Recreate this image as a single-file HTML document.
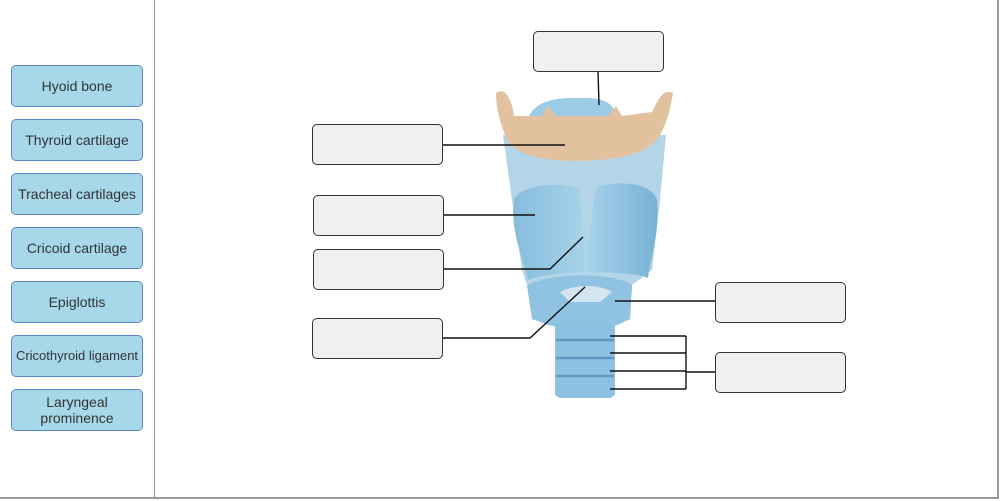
<!DOCTYPE html>
<html><head><style>
body{margin:0;width:1000px;height:501px;background:#fff;font-family:"Liberation Sans",sans-serif;position:relative;overflow:hidden}
.frame{position:absolute;left:0;top:0;width:997px;height:497px;border-right:2px solid #999;border-bottom:2px solid #999}
.div{position:absolute;left:154px;top:0;width:1px;height:498px;background:#999}
.lb{position:absolute;left:11px;width:130px;height:40px;background:#a6d8ea;border:1px solid #5b86c5;border-radius:5px;color:#333;font-size:14px;display:flex;align-items:center;justify-content:center;text-align:center;line-height:16px}
.eb{position:absolute;width:129px;height:39px;background:#f0f0f0;border:1px solid #333;border-radius:5px}
svg{position:absolute;left:0;top:0}
</style></head><body>
<div class="frame"></div><div class="div"></div>
<div class="lb" style="top:65px">Hyoid bone</div>
<div class="lb" style="top:119px">Thyroid cartilage</div>
<div class="lb" style="top:173px">Tracheal cartilages</div>
<div class="lb" style="top:227px">Cricoid cartilage</div>
<div class="lb" style="top:281px">Epiglottis</div>
<div class="lb" style="top:335px;font-size:13px">Cricothyroid ligament</div>
<div class="lb" style="top:389px">Laryngeal<br>prominence</div>
<svg width="1000" height="501">
<defs>
<linearGradient id="b" x1="0" x2="1"><stop offset="0" stop-color="#86bddc"/><stop offset=".5" stop-color="#a8d3ea"/><stop offset="1" stop-color="#78b2d6"/></linearGradient>
</defs>
<!-- epiglottis -->
<path d="M528,120 C532,100 560,97 580,98 C605,97 618,105 615,120 Z" fill="#9ccbe6"/>
<!-- membrane/body silhouette -->
<path d="M503,135 L666,135 L660,200 L652,270 L632,285 L630,320 L615,322 L615,395 L555,395 L555,322 L532,320 L527,285 L522,270 L512,200 Z" fill="#b4d5e8"/>
<!-- thyroid cartilage -->
<path d="M514,200 C520,184 560,182 578,188 C583,205 580,232 587,242 C594,232 590,200 598,186 C625,180 652,184 657,200 C660,235 650,258 648,278 C630,270 550,270 528,280 C522,255 510,230 514,200 Z" fill="url(#b)"/>
<!-- cricoid -->
<path d="M527,286 C545,272 620,272 632,286 L630,318 C610,334 560,334 532,318 Z" fill="#8fc3e1"/>
<path d="M560,292 C575,284 600,284 612,292 L600,302 L570,302 Z" fill="#d3e5ef"/>
<!-- trachea -->
<rect x="555" y="322" width="60" height="76" rx="6" fill="#8cc1e1"/>
<g stroke="#5f98c0" stroke-width="2.5"><line x1="556" y1="340" x2="614" y2="340"/><line x1="556" y1="358" x2="614" y2="358"/><line x1="556" y1="376" x2="614" y2="376"/></g>
<!-- hyoid -->
<path d="M496,93 C505,86 512,100 514,116 L542,116 L548,106 L556,116 L608,116 L616,106 L622,116 L652,112 C658,100 663,88 673,93 C670,112 665,130 655,142 C640,156 610,161 575,161 C545,161 520,156 508,142 C501,126 496,110 496,93 Z" fill="#e2c19e"/>
<g fill="none" stroke="#111" stroke-width="1.4">
<path d="M598,71 L599,105"/>
<path d="M442,145 L565,145"/>
<path d="M443,215 L535,215"/>
<path d="M443,269 L550,269 L583,237"/>
<path d="M442,338 L530,338 L585,287"/>
<path d="M615,301 L715,301"/>
<path d="M610,336 L686,336 M610,353 L686,353 M610,371 L686,371 M610,389 L686,389 M686,336 L686,389 M686,372 L715,372"/>
</g>
</svg>
<div class="eb" style="left:533px;top:31px"></div>
<div class="eb" style="left:312px;top:124px"></div>
<div class="eb" style="left:313px;top:195px"></div>
<div class="eb" style="left:313px;top:249px"></div>
<div class="eb" style="left:312px;top:318px"></div>
<div class="eb" style="left:715px;top:282px"></div>
<div class="eb" style="left:715px;top:352px"></div>
</body></html>
